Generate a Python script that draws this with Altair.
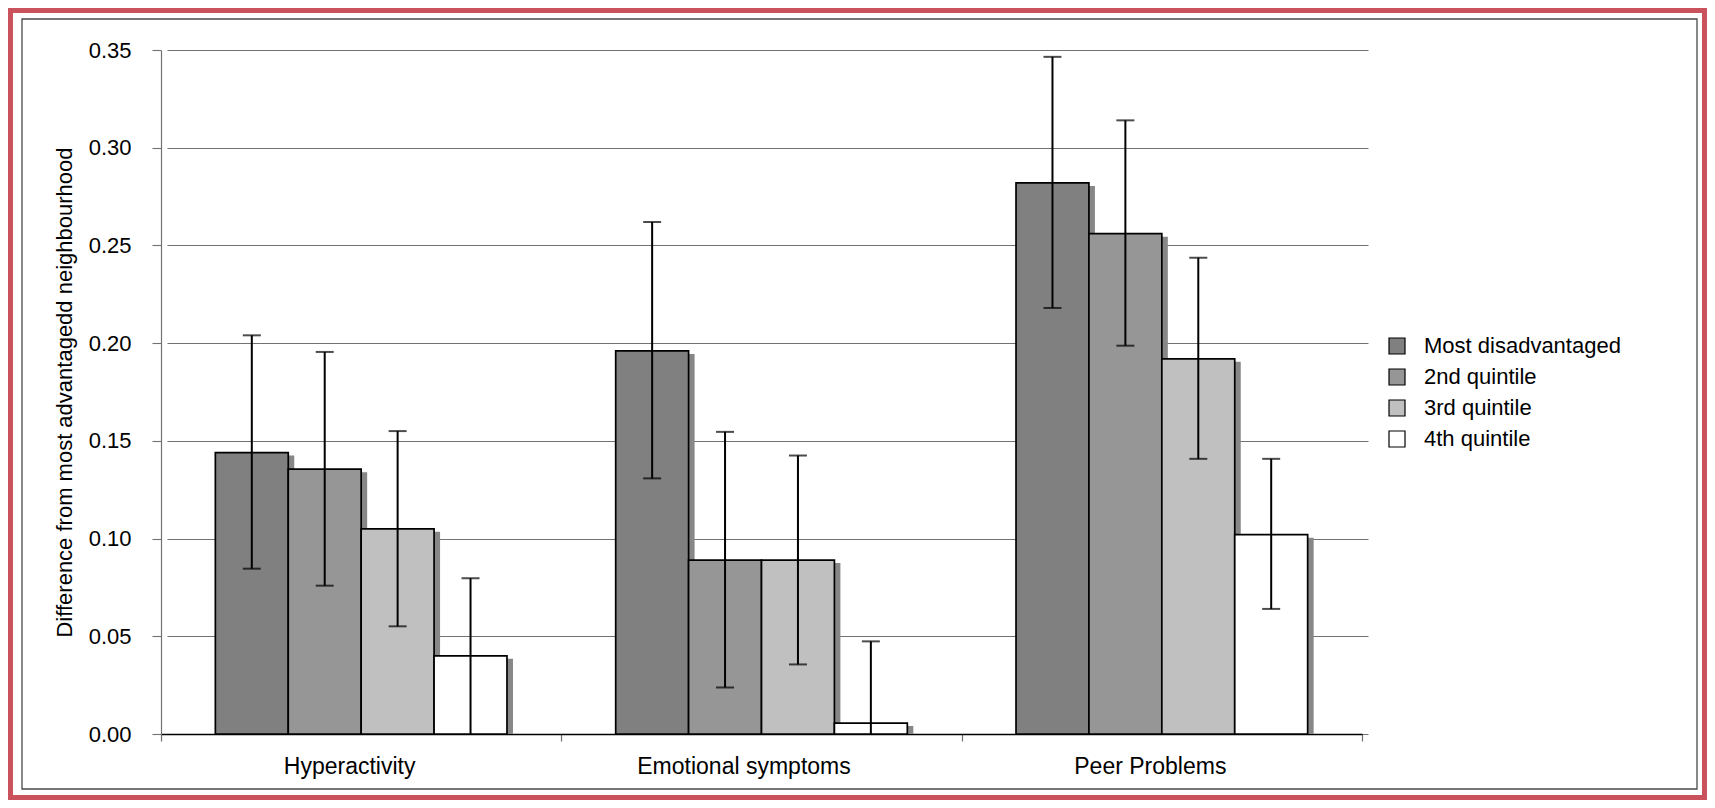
import altair as alt
import pandas as pd

categories = ["Hyperactivity", "Emotional symptoms", "Peer Problems"]
groups = ["Most disadvantaged", "2nd quintile", "3rd quintile", "4th quintile"]
colors = ["#808080", "#969696", "#C0C0C0", "#FFFFFF"]

values = {
    "Most disadvantaged": [0.144, 0.196, 0.282],
    "2nd quintile": [0.1355, 0.089, 0.256],
    "3rd quintile": [0.105, 0.089, 0.192],
    "4th quintile": [0.040, 0.0056, 0.102],
}
upper = {
    "Most disadvantaged": [0.204, 0.262, 0.3465],
    "2nd quintile": [0.1955, 0.1546, 0.314],
    "3rd quintile": [0.155, 0.1425, 0.2437],
    "4th quintile": [0.0797, 0.0474, 0.1408],
}
lower = {
    "Most disadvantaged": [0.0846, 0.1308, 0.218],
    "2nd quintile": [0.0759, 0.0238, 0.1987],
    "3rd quintile": [0.0551, 0.0356, 0.1408],
    "4th quintile": [-0.002, -0.036, 0.064],
}
y_ticks = [0.0, 0.05, 0.10, 0.15, 0.20, 0.25, 0.30, 0.35]
y_title = "Difference from most advantagedd neighbourhood"

rows = []
for g in groups:
    for i, c in enumerate(categories):
        rows.append({"category": c, "group": g, "value": values[g][i],
                     "lo": lower[g][i], "hi": upper[g][i]})
df = pd.DataFrame(rows)

W, H = 1201, 684
FONT = "Liberation Sans"

def xscale(shift=0):
    return alt.Scale(domain=categories, range=[shift, W + shift], paddingInner=0, paddingOuter=0)

def offscale():
    return alt.Scale(domain=groups, paddingInner=0, paddingOuter=0.7455)

yscale = alt.Scale(domain=[0, 0.35], nice=False, zero=True)

xaxis = alt.Axis(
    title=None, tickBand="extent", tickSize=7, tickColor="#707070", tickWidth=1.2,
    domainColor="#000000", domainWidth=1.6, labelFontSize=23, labelFont=FONT,
    labelColor="#000000", labelBaseline="alphabetic", labelPadding=32.6, labelAngle=0,
    labelLimit=0,
    labelOffset={"condition": {"test": "datum.value === 'Emotional symptoms'", "value": -18}, "value": -12},
    grid=False,
)
yaxis = alt.Axis(
    values=y_ticks, format=".2f", grid=True, gridColor="#727272", gridWidth=1.1,
    tickColor="#727272", tickSize=9, tickWidth=1.1, domainColor="#727272", domainWidth=1.2,
    labelFontSize=22, labelFont=FONT, labelColor="#000000", labelPadding=21,
    titleFontSize=22, titleFont=FONT, titleFontWeight="normal", titleColor="#000000",
    titleX=-90, titleY=H / 2, titleBaseline="alphabetic", titleAngle=-90, titleAlign="center",
)

def Y(field):
    return alt.Y(field, scale=yscale, axis=yaxis, title=y_title)

base = alt.Chart(df)

shadow = base.mark_bar(fill="#878787", yOffset=3, clip=True).encode(
    x=alt.X("category:N", sort=categories, scale=xscale(6), axis=None),
    xOffset=alt.XOffset("group:N", sort=groups, scale=offscale()),
    y=Y("value:Q"),
)

bars = base.mark_bar(stroke="#000000", strokeWidth=1.7).encode(
    x=alt.X("category:N", sort=categories, scale=xscale(), axis=xaxis),
    xOffset=alt.XOffset("group:N", sort=groups, scale=offscale()),
    y=Y("value:Q"),
    fill=alt.Fill("group:N", sort=groups, scale=alt.Scale(domain=groups, range=colors),
                  legend=alt.Legend(title=None, orient="none", legendX=1225, legendY=285,
                                    symbolType="square", symbolSize=256,
                                    symbolStrokeColor="#000000", symbolStrokeWidth=1.2,
                                    labelFontSize=22, labelFont=FONT, labelColor="#000000",
                                    labelOffset=16, labelLimit=0, rowPadding=9, padding=0)),
)

rules = base.mark_rule(color="#000000", strokeWidth=2, clip=True).encode(
    x=alt.X("category:N", sort=categories, scale=xscale(), axis=None),
    xOffset=alt.XOffset("group:N", sort=groups, scale=offscale()),
    y=Y("lo:Q"),
    y2="hi:Q",
)
caps_hi = base.mark_tick(color="#000000", size=18, thickness=2, clip=True).encode(
    x=alt.X("category:N", sort=categories, scale=xscale(), axis=None),
    xOffset=alt.XOffset("group:N", sort=groups, scale=offscale()),
    y=Y("hi:Q"),
)
caps_lo = base.mark_tick(color="#000000", size=18, thickness=2, clip=True).encode(
    x=alt.X("category:N", sort=categories, scale=xscale(), axis=None),
    xOffset=alt.XOffset("group:N", sort=groups, scale=offscale()),
    y=Y("lo:Q"),
)

one = alt.Data(values=[{"k": 1}])
red_frame = alt.Chart(one).mark_rect(filled=False, stroke="#C9525C", strokeWidth=5).encode(
    x=alt.value(-150.5), x2=alt.value(1543.5), y=alt.value(-39.5), y2=alt.value(747.5)
)
inner_frame = alt.Chart(one).mark_rect(filled=False, stroke="#4a4a4a", strokeWidth=1.3).encode(
    x=alt.value(-139), x2=alt.value(1536), y=alt.value(-31), y2=alt.value(739)
)

chart = alt.layer(red_frame, inner_frame, shadow, bars, rules, caps_hi, caps_lo).resolve_scale(
    x="independent", xOffset="independent"
).properties(
    width=W, height=H,
    padding={"left": 153, "top": 42, "right": 1699 - 153 - W, "bottom": 792 - 42 - H},
    autosize=alt.AutoSizeParams(type="none"),
    background="#FFFFFF",
).configure_view(stroke=None)

chart.save("out.html", embed_options={"renderer": "svg", "actions": False})
